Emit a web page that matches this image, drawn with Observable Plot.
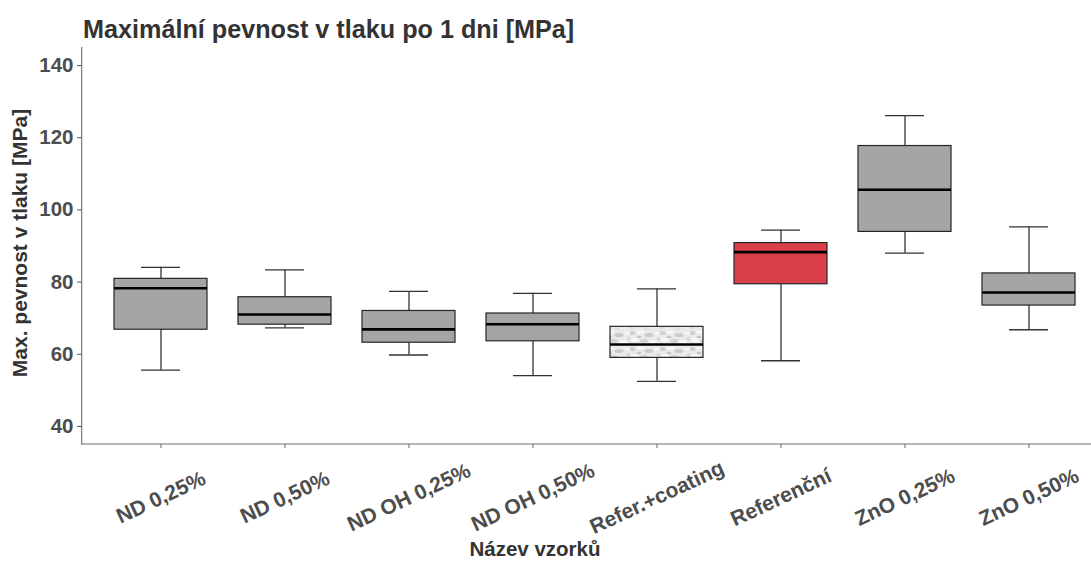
<!DOCTYPE html>
<html>
<head>
<meta charset="utf-8">
<script src="https://cdn.jsdelivr.net/npm/d3@7"></script>
<script src="https://cdn.jsdelivr.net/npm/@observablehq/plot@0.6"></script>
<style>
  html, body { margin: 0; padding: 0; background: #fff; }
  #title { height: 42px; box-sizing: border-box; padding-top: 17px; padding-left: 83px;
           font: bold 25.2px "Liberation Sans", Arial, sans-serif; line-height: 1; color: #333; white-space: nowrap; }
  svg { display: block; }
</style>
</head>
<body>
<div id="title">Maximální pevnost v tlaku po 1 dni [MPa]</div>
<div id="chart"></div>
<script>
const categories = ["ND 0,25%", "ND 0,50%", "ND OH 0,25%", "ND OH 0,50%", "Refer.+coating", "Referenční", "ZnO 0,25%", "ZnO 0,50%"];
const lowerWhisker = [55.6, 67.3, 59.8, 54.1, 52.5, 58.2, 88.0, 66.8];
const q1Values     = [66.8, 68.2, 63.2, 63.6, 59.0, 79.4, 93.9, 73.5];
const medianValues = [78.3, 71.0, 66.9, 68.3, 62.7, 88.3, 105.6, 77.1];
const q3Values     = [80.9, 75.8, 72.0, 71.3, 67.6, 90.8, 117.7, 82.4];
const upperWhisker = [84.1, 83.4, 77.4, 76.9, 78.1, 94.4, 126.1, 95.3];
const yTicks = [40, 60, 80, 100, 120, 140];
const redCategory = "Referenční";
const texturedCategory = "Refer.+coating";

const data = categories.map((name, i) => ({
  name, lo: lowerWhisker[i], q1: q1Values[i], med: medianValues[i], q3: q3Values[i], hi: upperWhisker[i]
}));

const font = '"Liberation Sans", Arial, sans-serif';
const W = 1091, H = 521, ML = 82, MT = 5, MB = 119;

function decor(index, scales, values, dims) {
  const g = d3.create("svg:g");
  const defs = g.append("defs");
  const p = defs.append("pattern").attr("id", "tex").attr("patternUnits", "userSpaceOnUse")
    .attr("width", 30).attr("height", 16);
  p.append("rect").attr("width", 30).attr("height", 16).attr("fill", "#eaeaea");
  [[2,3,3.5,2,"#d0d0d0"],[10,2,4,1.5,"#f8f8f8"],[19,5,4.5,2,"#cbcbcb"],[27,3,3,1.5,"#f5f5f5"],
   [5,10,4,2,"#f6f6f6"],[14,11,4,2,"#d3d3d3"],[23,12,3.5,1.5,"#fafafa"],[29,9,2.5,2,"#d8d8d8"],
   [1,14,2.5,1.5,"#dadada"],[9,7,2.5,1.2,"#c6c6c6"],[17,15,3,1,"#e0e0e0"]]
    .forEach(([cx, cy, rx, ry, c]) => p.append("ellipse").attr("cx", cx).attr("cy", cy).attr("rx", rx).attr("ry", ry).attr("fill", c));
  const top = dims.marginTop, bottom = dims.height - dims.marginBottom;
  g.append("line").attr("x1", ML - 0.3).attr("x2", ML - 0.3).attr("y1", top).attr("y2", bottom + 0.5)
    .attr("stroke", "#6e6e6e").attr("stroke-width", 1.1);
  g.append("line").attr("x1", ML - 0.8).attr("x2", W).attr("y1", bottom).attr("y2", bottom)
    .attr("stroke", "#6e6e6e").attr("stroke-width", 1.1);
  return g.node();
}

const boxStroke = "#262626";
const chart = Plot.plot({
  width: W, height: H,
  marginLeft: ML, marginRight: 0, marginTop: MT, marginBottom: MB,
  style: { fontFamily: font, background: "#fff" },
  x: { type: "band", domain: categories, range: [ML, 1106.7], paddingInner: 0.248, paddingOuter: 0.224, axis: null },
  y: { domain: [35, 145], axis: null },
  marks: [
    decor,
    Plot.axisY({ ticks: yTicks, tickSize: 5, tickPadding: 4, fontSize: 20.5, fontWeight: "bold", fill: "#4d4d4d", stroke: "#555", label: null }),
    Plot.axisX({ tickSize: 4, tickFormat: () => "", stroke: "#666", label: null }),
    Plot.ruleX(data, { x: "name", y1: "q3", y2: "hi", stroke: "#333", strokeWidth: 1.3 }),
    Plot.ruleX(data, { x: "name", y1: "lo", y2: "q1", stroke: "#333", strokeWidth: 1.3 }),
    Plot.tickY(data, { x: "name", y: "hi", inset: 27, stroke: "#333", strokeWidth: 1.3 }),
    Plot.tickY(data, { x: "name", y: "lo", inset: 27, stroke: "#333", strokeWidth: 1.3 }),
    Plot.barY(data.filter(d => d.name !== redCategory && d.name !== texturedCategory), { x: "name", y1: "q1", y2: "q3", fill: "#a5a5a5", stroke: boxStroke, strokeWidth: 1.2 }),
    Plot.barY(data.filter(d => d.name === redCategory), { x: "name", y1: "q1", y2: "q3", fill: "#d93f48", stroke: boxStroke, strokeWidth: 1.2 }),
    Plot.barY(data.filter(d => d.name === texturedCategory), { x: "name", y1: "q1", y2: "q3", fill: "url(#tex)", stroke: boxStroke, strokeWidth: 1.2 }),
    Plot.tickY(data, { x: "name", y: "med", stroke: "#000", strokeWidth: 2.6 }),
    Plot.text(categories, { x: d => d, frameAnchor: "bottom", dy: 53, rotate: -25, textAnchor: "middle", lineAnchor: "middle", fontSize: 21, fontWeight: "bold", fill: "#4d4d4d" }),
    Plot.text(["Max. pevnost v tlaku [MPa]"], { frameAnchor: "left", dx: -62, dy: -3, rotate: -90, textAnchor: "middle", lineAnchor: "middle", fontSize: 21, fontWeight: "bold", fill: "#333" }),
    Plot.text(["Název vzorků"], { frameAnchor: "bottom", dx: -52, dy: 105, textAnchor: "middle", lineAnchor: "middle", fontSize: 20.5, fontWeight: "bold", fill: "#333" })
  ]
});
document.getElementById("chart").appendChild(chart);
</script>
</body>
</html>
